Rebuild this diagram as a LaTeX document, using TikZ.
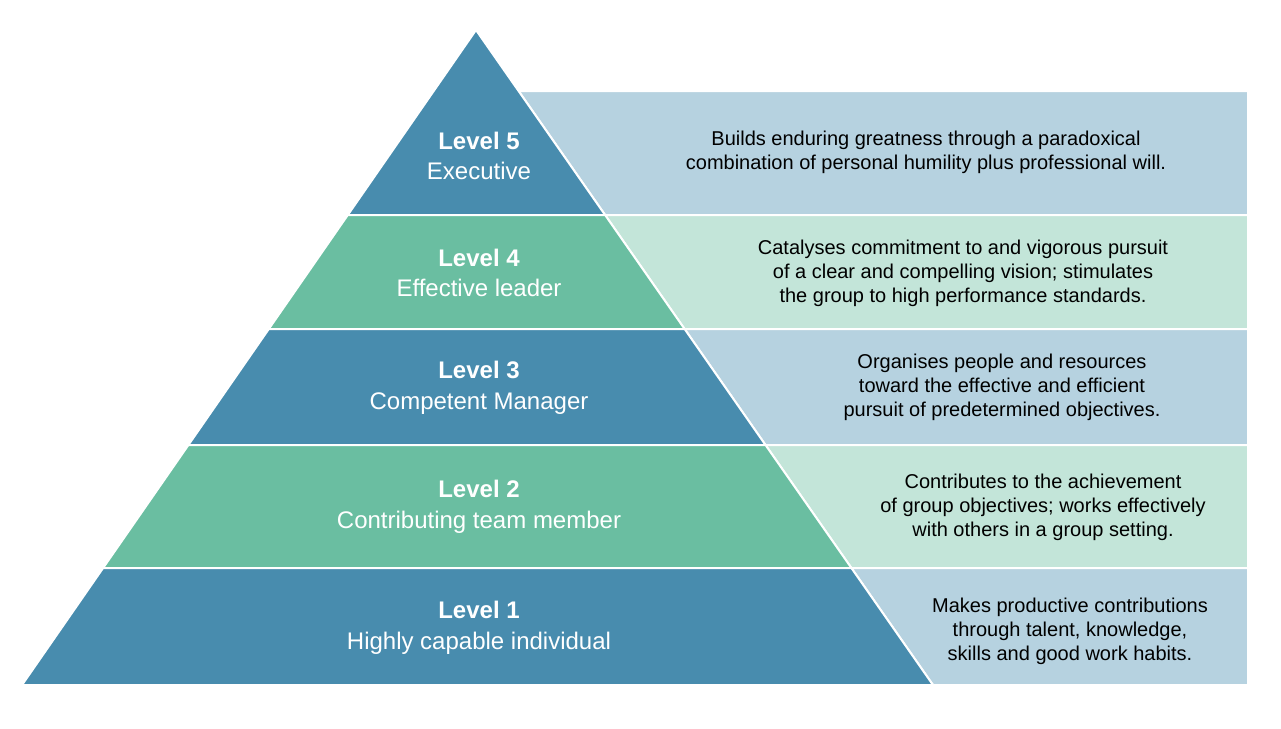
\documentclass[tikz,border=0pt]{standalone}
\usepackage{fontspec}
\setmainfont{Liberation Sans}
\definecolor{levelblue}{RGB}{72, 140, 174}
\definecolor{levelgreen}{RGB}{106, 190, 161}
\definecolor{paleblue}{RGB}{182, 210, 224}
\definecolor{palegreen}{RGB}{195, 229, 217}

\begin{document}
\begin{tikzpicture}[x=0.75pt, y=-0.75pt,
        band/.style = {draw=white, line width=1.5pt, line join=miter},
        level/.style = {text=white, align=center, font=\fontsize{18}{23}\selectfont},
        desc/.style = {text=black, align=center, font=\fontsize{15}{18}\selectfont}]
        \useasboundingbox (0,0) rectangle (1281,728);
        % panels on the right
        \filldraw[band, fill=paleblue] (518.6,91) -- (1248,91) -- (1248,215) -- (605.1,215) -- cycle;
        \filldraw[band, fill=palegreen] (605.1,215) -- (1248,215) -- (1248,329) -- (684.6,329) -- cycle;
        \filldraw[band, fill=paleblue] (684.6,329) -- (1248,329) -- (1248,445) -- (765.5,445) -- cycle;
        \filldraw[band, fill=palegreen] (765.5,445) -- (1248,445) -- (1248,568) -- (851.4,568) -- cycle;
        \filldraw[band, fill=paleblue] (851.4,568) -- (1248,568) -- (1248,685) -- (933,685) -- cycle;
        % pyramid
        \filldraw[band, fill=levelblue] (476,30) -- (605.1,215) -- (347.8,215) -- cycle;
        \filldraw[band, fill=levelgreen] (347.8,215) -- (605.1,215) -- (684.6,329) -- (268.8,329) -- cycle;
        \filldraw[band, fill=levelblue] (268.8,329) -- (684.6,329) -- (765.5,445) -- (188.4,445) -- cycle;
        \filldraw[band, fill=levelgreen] (188.4,445) -- (765.5,445) -- (851.4,568) -- (103.1,568) -- cycle;
        \filldraw[band, fill=levelblue] (103.1,568) -- (851.4,568) -- (933,685) -- (22,685) -- cycle;
        % level names
        \node[level] (lv5) at (479, 156) {\textbf{Level 5}\\Executive};
        \node[level] (lv4) at (479, 273) {\textbf{Level 4}\\Effective leader};
        \node[level] (lv3) at (479, 388) {\textbf{Level 3}\\Competent Manager};
        \node[level] (lv2) at (479, 507) {\textbf{Level 2}\\Contributing team member};
        \node[level] (lv1) at (479, 628) {\textbf{Level 1}\\Highly capable individual};
        % descriptions
        \node[desc] (desc5) at (926, 152) {Builds enduring greatness through a paradoxical\\combination of personal humility plus professional will.};
        \node[desc] (desc4) at (963, 273) {Catalyses commitment to and vigorous pursuit\\of a clear and compelling vision; stimulates\\the group to high performance standards.};
        \node[desc] (desc3) at (1002, 387) {Organises people and resources\\toward the effective and efficient\\pursuit of predetermined objectives.};
        \node[desc] (desc2) at (1043, 507) {Contributes to the achievement\\of group objectives; works effectively\\with others in a group setting.};
        \node[desc] (desc1) at (1070, 631) {Makes productive contributions\\through talent, knowledge,\\skills and good work habits.};
\end{tikzpicture}
\end{document}
